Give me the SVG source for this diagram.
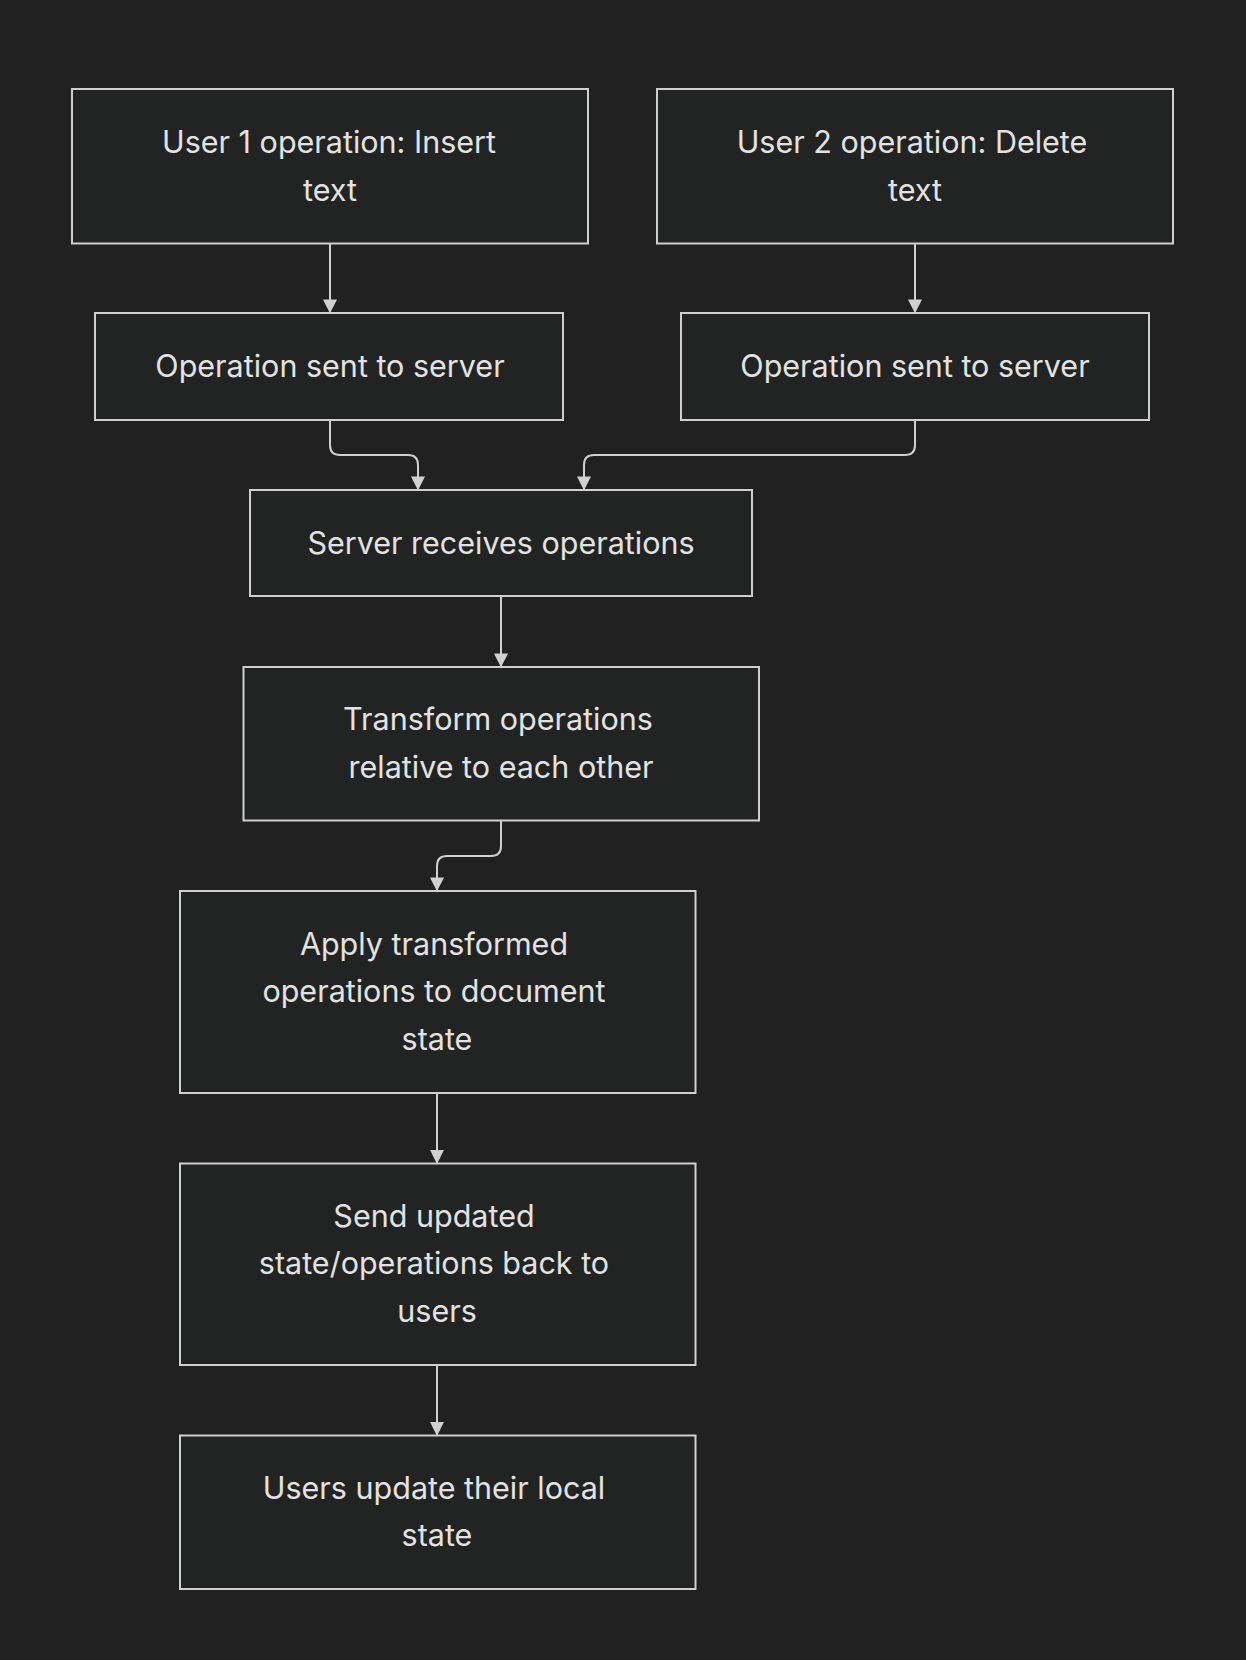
<svg xmlns="http://www.w3.org/2000/svg" width="1246" height="1660" viewBox="0 0 1246 1660">
<style>
.n rect{fill:#222423;stroke:#cfcfcf;stroke-width:2}
.n text{fill:#e2e2e2;font-family:Inter,"Liberation Sans",sans-serif;font-size:30.5px;text-anchor:middle}
.e path{fill:none;stroke:#d0d0d0;stroke-width:2;marker-end:url(#a)}
</style>
<defs><marker id="a" viewBox="0 0 10 10" refX="9" refY="5" markerWidth="14" markerHeight="14" orient="auto" markerUnits="userSpaceOnUse"><path d="M0 0L10 5L0 10z" fill="#d0d0d0"/></marker></defs>
<rect width="1246" height="1660" fill="#212121"/>
<g class="e">
<path d="M330 243.5V312"/>
<path d="M915 243.5V312"/>
<path d="M330 420V445Q330 455 340 455H408Q418 455 418 465V489"/>
<path d="M915 420V445Q915 455 905 455H594Q584 455 584 465V489"/>
<path d="M501 596V666"/>
<path d="M501 820.5V846Q501 856 491 856H447Q437 856 437 866V890"/>
<path d="M437 1093V1162.5"/>
<path d="M437 1365V1434.5"/>
</g>
<g id="n1" class="n"><rect x="72" y="89" width="516" height="154.5"/><text x="329" y="153">User 1 operation: Insert</text><text x="330" y="200.5">text</text></g>
<g id="n2" class="n"><rect x="657" y="89" width="516" height="154.5"/><text x="912" y="153">User 2 operation: Delete</text><text x="915" y="200.5">text</text></g>
<g id="n3" class="n"><rect x="95" y="313" width="468" height="107"/><text x="330" y="377">Operation sent to server</text></g>
<g id="n4" class="n"><rect x="681" y="313" width="468" height="107"/><text x="915" y="377">Operation sent to server</text></g>
<g id="n5" class="n"><rect x="250" y="490" width="502" height="106"/><text x="501" y="554">Server receives operations</text></g>
<g id="n6" class="n"><rect x="243.5" y="667" width="515.5" height="153.5"/><text x="498" y="730">Transform operations</text><text x="501" y="777.5">relative to each other</text></g>
<g id="n7" class="n"><rect x="180" y="891" width="515.5" height="202"/><text x="434" y="954.5">Apply transformed</text><text x="434" y="1002">operations to document</text><text x="437" y="1049.6">state</text></g>
<g id="n8" class="n"><rect x="180" y="1163.5" width="515.5" height="201.5"/><text x="434" y="1226.5">Send updated</text><text x="434" y="1274">state/operations back to</text><text x="437" y="1321.7">users</text></g>
<g id="n9" class="n"><rect x="180" y="1435.5" width="515.5" height="153.5"/><text x="434" y="1498.5">Users update their local</text><text x="437" y="1546">state</text></g>
</svg>
